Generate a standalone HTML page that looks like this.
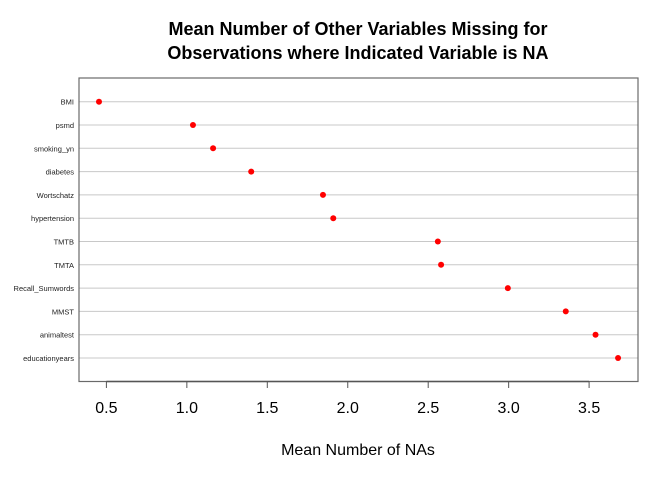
<!DOCTYPE html>
<html><head><meta charset="utf-8"><style>
body{margin:0;background:#fff}
svg{display:block;font-family:"Liberation Sans",Arial,sans-serif}
</style></head><body>
<svg width="671" height="480" viewBox="0 0 671 480">
<text x="358" y="35" text-anchor="middle" font-size="18" font-weight="bold">Mean Number of Other Variables Missing for</text>
<text x="358" y="59" text-anchor="middle" font-size="18" font-weight="bold">Observations where Indicated Variable is NA</text>
<g id="grid"></g>
<rect x="79" y="78" width="559" height="303.5" fill="none" stroke="#6a6a6a" stroke-width="1.2"/>
<g id="ylabels"></g>
<g id="xaxis"></g>
<g id="points"></g>
<text x="358" y="455" text-anchor="middle" font-size="16">Mean Number of NAs</text>
</svg>
<script>
const categories=["BMI","psmd","smoking_yn","diabetes","Wortschatz","hypertension","TMTB","TMTA","Recall_Sumwords","MMST","animaltest","educationyears"];
const values=[0.454,1.038,1.163,1.40,1.846,1.91,2.56,2.58,2.995,3.355,3.54,3.68];
const xTicks=[0.5,1.0,1.5,2.0,2.5,3.0,3.5];
const xTickLabels=["0.5","1.0","1.5","2.0","2.5","3.0","3.5"];
const NS="http://www.w3.org/2000/svg";
function xs(v){return 106.4+(v-0.5)*160.9;}
function ys(i){return 101.7+i*(358-101.7)/(categories.length-1);}
function mk(t,a,p){const e=document.createElementNS(NS,t);for(const k in a)e.setAttribute(k,a[k]);p.appendChild(e);return e;}
const grid=document.getElementById('grid'),yl=document.getElementById('ylabels'),pts=document.getElementById('points'),xa=document.getElementById('xaxis');
categories.forEach((c,i)=>{
 const y=ys(i);
 const l=mk('line',{x1:79,x2:638,y1:y,y2:y,stroke:'#c8c8c8','stroke-width':1},grid);
 
 
 const t=mk('text',{x:74,y:y+3,'text-anchor':'end','font-size':7.5,fill:'#222'},yl);
 t.textContent=c;
 
 
 const p=mk('circle',{cx:xs(values[i]),cy:y,r:3,fill:'#ff0000'},pts);
 
 
});
const al=mk('line',{x1:xs(xTicks[0]),x2:xs(xTicks[xTicks.length-1]),y1:381.5,y2:381.5,stroke:'#555','stroke-width':1.5},xa);


xTicks.forEach((v,i)=>{
 const x=xs(v);
 const tk=mk('line',{x1:x,x2:x,y1:381.5,y2:388,stroke:'#555','stroke-width':1},xa);
 
 
 const t=mk('text',{x:x,y:413,'text-anchor':'middle','font-size':16},xa);
 t.textContent=xTickLabels[i];
 
 
});
</script>
</body></html>
